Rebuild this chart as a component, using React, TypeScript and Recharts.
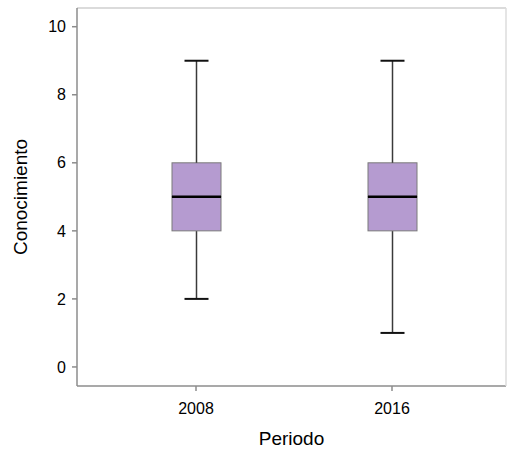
import { ComposedChart, Bar, XAxis, YAxis } from 'recharts';

const categories = ['2008', '2016'];
const minValues = [2, 1];
const q1Values = [4, 4];
const medianValues = [5, 5];
const q3Values = [6, 6];
const maxValues = [9, 9];

const yTicks = [0, 2, 4, 6, 8, 10];
const yDomain = [-0.56, 10.55];

const BOX_FILL = '#b59bd0';
const BOX_STROKE = '#7a7a7a';
const AXIS_COLOR = '#8c8c8c';
const FONT = "'Liberation Sans', Arial, sans-serif";

// stacked segments: invisible base, whiskers and the two halves of the box
const data = categories.map((periodo, i) => ({
  periodo,
  base: minValues[i],
  whiskerLow: q1Values[i] - minValues[i],
  boxLow: medianValues[i] - q1Values[i],
  boxHigh: q3Values[i] - medianValues[i],
  whiskerHigh: maxValues[i] - q3Values[i],
}));

const CAP = 24;

const WhiskerLow = (props: any) => {
  const { x, y, width, height } = props;
  const cx = x + width / 2;
  return (
    <g>
      <line x1={cx} x2={cx} y1={y} y2={y + height} stroke="#3a3a3a" strokeWidth={1.5} />
      <line x1={cx - CAP / 2} x2={cx + CAP / 2} y1={y + height} y2={y + height} stroke="#111" strokeWidth={2} />
    </g>
  );
};

const WhiskerHigh = (props: any) => {
  const { x, y, width, height } = props;
  const cx = x + width / 2;
  return (
    <g>
      <line x1={cx} x2={cx} y1={y} y2={y + height} stroke="#3a3a3a" strokeWidth={1.5} />
      <line x1={cx - CAP / 2} x2={cx + CAP / 2} y1={y} y2={y} stroke="#111" strokeWidth={2} />
    </g>
  );
};

const BoxLow = (props: any) => {
  const { x, y, width, height } = props;
  return <rect x={x} y={y} width={width} height={height} fill={BOX_FILL} stroke={BOX_STROKE} strokeWidth={1} />;
};

// upper half draws the median at its bottom edge so nothing covers it
const BoxHigh = (props: any) => {
  const { x, y, width, height } = props;
  return (
    <g>
      <rect x={x} y={y} width={width} height={height} fill={BOX_FILL} stroke={BOX_STROKE} strokeWidth={1} />
      <line x1={x} x2={x + width} y1={y + height} y2={y + height} stroke="#000" strokeWidth={2.5} />
    </g>
  );
};

export default function App() {
  return (
    <div style={{ position: 'absolute', left: 0, top: 0, width: 509, height: 450, background: '#fff' }}>
      <ComposedChart
        width={509}
        height={450}
        data={data}
        margin={{ top: 7, right: 2, bottom: 0, left: 0 }}
        barSize={49}
      >
        <XAxis
          dataKey="periodo"
          height={64}
          padding={{ left: 21, right: 16 }}
          axisLine={{ stroke: AXIS_COLOR, strokeWidth: 1.5 }}
          tickLine={{ stroke: AXIS_COLOR, strokeWidth: 1.5 }}
          tickSize={5}
          tickMargin={12}
          tick={{ fill: '#000', fontSize: 16, fontFamily: FONT }}
          label={{
            content: (p: any) => {
              const vb = p.viewBox;
              return (
                <text x={vb.x + vb.width / 2} y={vb.y + 59} textAnchor="middle" fontSize={19} fontFamily={FONT} fill="#000">
                  Periodo
                </text>
              );
            },
          }}
        />
        <XAxis xAxisId="top" orientation="top" height={1} tick={false} tickLine={false} axisLine={{ stroke: '#cfcfcf', strokeWidth: 1.5 }} />
        <YAxis
          type="number"
          domain={yDomain}
          ticks={yTicks}
          allowDataOverflow
          width={77}
          axisLine={{ stroke: AXIS_COLOR, strokeWidth: 1.5 }}
          tickLine={{ stroke: AXIS_COLOR, strokeWidth: 1.5 }}
          tickSize={5}
          tickMargin={6}
          tick={{ fill: '#000', fontSize: 16, fontFamily: FONT }}
          label={{
            content: (p: any) => {
              const vb = p.viewBox;
              const cx = 20;
              const cy = vb.y + vb.height / 2;
              return (
                <text
                  x={cx}
                  y={cy}
                  transform={`rotate(-90 ${cx} ${cy})`}
                  textAnchor="middle"
                  dominantBaseline="central"
                  fontSize={19}
                  fontFamily={FONT}
                  fill="#000"
                >
                  Conocimiento
                </text>
              );
            },
          }}
        />
        <YAxis yAxisId="right" orientation="right" width={1} domain={[0, 1]} tick={false} tickLine={false} axisLine={{ stroke: '#dcdcdc', strokeWidth: 1.5 }} />
        <Bar dataKey="base" stackId="box" fill="transparent" isAnimationActive={false} />
        <Bar dataKey="whiskerLow" stackId="box" shape={WhiskerLow} isAnimationActive={false} />
        <Bar dataKey="boxLow" stackId="box" shape={BoxLow} isAnimationActive={false} />
        <Bar dataKey="boxHigh" stackId="box" shape={BoxHigh} isAnimationActive={false} />
        <Bar dataKey="whiskerHigh" stackId="box" shape={WhiskerHigh} isAnimationActive={false} />
      </ComposedChart>
    </div>
  );
}
